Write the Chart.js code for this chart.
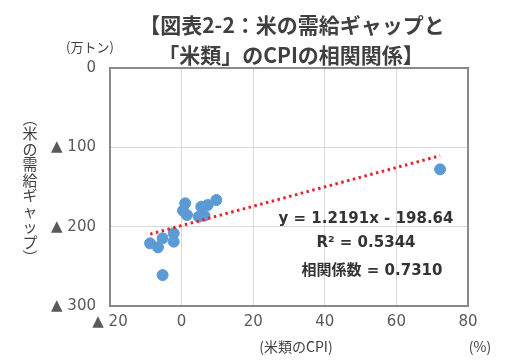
<!DOCTYPE html>
<html>
<head>
<meta charset="utf-8">
<script src="https://cdn.jsdelivr.net/npm/chart.js@4"></script>
<style>
  body { margin: 0; background: #fff; }
  #wrap { width: 525px; height: 361px; }
</style>
</head>
<body>
<div id="wrap"><canvas id="gap-chart" width="525" height="361"></canvas></div>
<script>
// values
let cpi_x = [1.0, 0.4, 1.5, 5.5, 7.3, 9.7, 4.8, 6.4, -2.2, -2.2, -5.3, -8.8, -6.6, -5.3, 72.2];
let gap_y = [-170.6, -179.9, -185.3, -174.8, -172.7, -166.4, -187.4, -186.1, -208.4, -218.9, -214.7, -221, -226, -261, -127.7];
let trend_x = [-8.8, 72.2];
let trend_y = [-209.4, -110.6];
let x_ticks = [-20, 0, 20, 40, 60, 80];
let y_ticks = [0, -100, -200, -300];
let title_lines = ["【図表2-2：米の需給ギャップと", "「米類」のCPIの相関関係】"];
let stat_lines = ["y = 1.2191x - 198.64", "R² = 0.5344", "相関係数 = 0.7310"];

const FONT = "'Noto Sans CJK JP', 'DejaVu Sans', sans-serif";
const NUM_FONT = "'DejaVu Sans', 'Noto Sans CJK JP', sans-serif";
const TXT = "#404040";

function fmt(v) {
  return v < 0 ? "▲ " + Math.abs(v) : String(v);
}

let textPlugin = {
  id: "texts",
  afterDraw(chart) {
    let ctx = chart.ctx;
    ctx.save();
    ctx.fillStyle = TXT;
    ctx.textAlign = "center";
    ctx.textBaseline = "middle";

    ctx.font = "bold 21px " + FONT;
    ctx.fillText(title_lines[0], 292, 25);
    ctx.fillText(title_lines[1], 291, 55);

    ctx.font = "13px " + FONT;
    ctx.fillText("(万トン)", 90, 47);
    ctx.font = "14px " + FONT;
    ctx.fillText("(米類のCPI)", 296, 347);
    ctx.fillText("(%)", 480, 347);

    // vertical y axis title
    let chars = ["︵", "米", "の", "需", "給", "ギ", "ャ", "ッ", "プ", "︶"];
    ctx.font = "15px " + FONT;
    chars.forEach((c, i) => {
      ctx.fillText(c, 30, 118 + i * 15.5);
    });

    ctx.font = "bold 15px " + NUM_FONT;
    ctx.fillStyle = "#333";
    ctx.fillText(stat_lines[0], 366, 219);
    ctx.fillText(stat_lines[1], 366, 243);
    ctx.fillText(stat_lines[2], 372, 271);
    ctx.restore();
  },
};

new Chart(document.getElementById("gap-chart").getContext("2d"), {
  type: "scatter",
  data: {
    datasets: [
      {
        label: "gap",
        data: cpi_x.map((x, i) => ({ x: x, y: gap_y[i] })),
        backgroundColor: "#5b9bd5",
        borderColor: "#5b9bd5",
        pointRadius: 5.5,
        pointHoverRadius: 5.5,
        order: 2,
      },
      {
        label: "trend",
        type: "line",
        data: trend_x.map((x, i) => ({ x: x, y: trend_y[i] })),
        borderColor: "#e3262e",
        borderWidth: 3,
        borderDash: [2.5, 3.5],
        pointRadius: 0,
        fill: false,
        order: 1,
      },
    ],
  },
  options: {
    responsive: false,
    animation: false,
    layout: { padding: { top: 68, right: 57, left: 0, bottom: 0 } },
    plugins: {
      legend: { display: false },
      tooltip: { enabled: false },
    },
    scales: {
      x: {
        type: "linear",
        min: -20,
        max: 80,
        afterBuildTicks(scale) {
          scale.ticks = x_ticks.map((v) => ({ value: v }));
        },
        afterFit(scale) {
          scale.height = 55;
        },
        grid: { color: "#d9d9d9", drawTicks: false },
        border: { color: "#898989", width: 2 },
        ticks: {
          padding: 7,
          color: "#595959",
          font: { size: 15, family: NUM_FONT },
          callback: (v) => fmt(v),
        },
      },
      y: {
        type: "linear",
        min: -300,
        max: 0,
        afterBuildTicks(scale) {
          scale.ticks = y_ticks.map((v) => ({ value: v }));
        },
        afterFit(scale) {
          scale.width = 110;
        },
        grid: { color: "#d9d9d9", drawTicks: false },
        border: { color: "#898989", width: 2 },
        ticks: {
          padding: 14,
          color: "#595959",
          font: { size: 15, family: NUM_FONT },
          callback: (v) => fmt(v),
        },
      },
    },
  },
  plugins: [
    textPlugin,
    {
      id: "frame",
      afterDatasetsDraw(chart) {
        let a = chart.chartArea;
        let ctx = chart.ctx;
        ctx.save();
        ctx.strokeStyle = "#898989";
        ctx.lineWidth = 2;
        ctx.strokeRect(a.left, a.top, a.right - a.left, a.bottom - a.top);
        ctx.restore();
      },
    },
  ],
});
</script>
</body>
</html>
